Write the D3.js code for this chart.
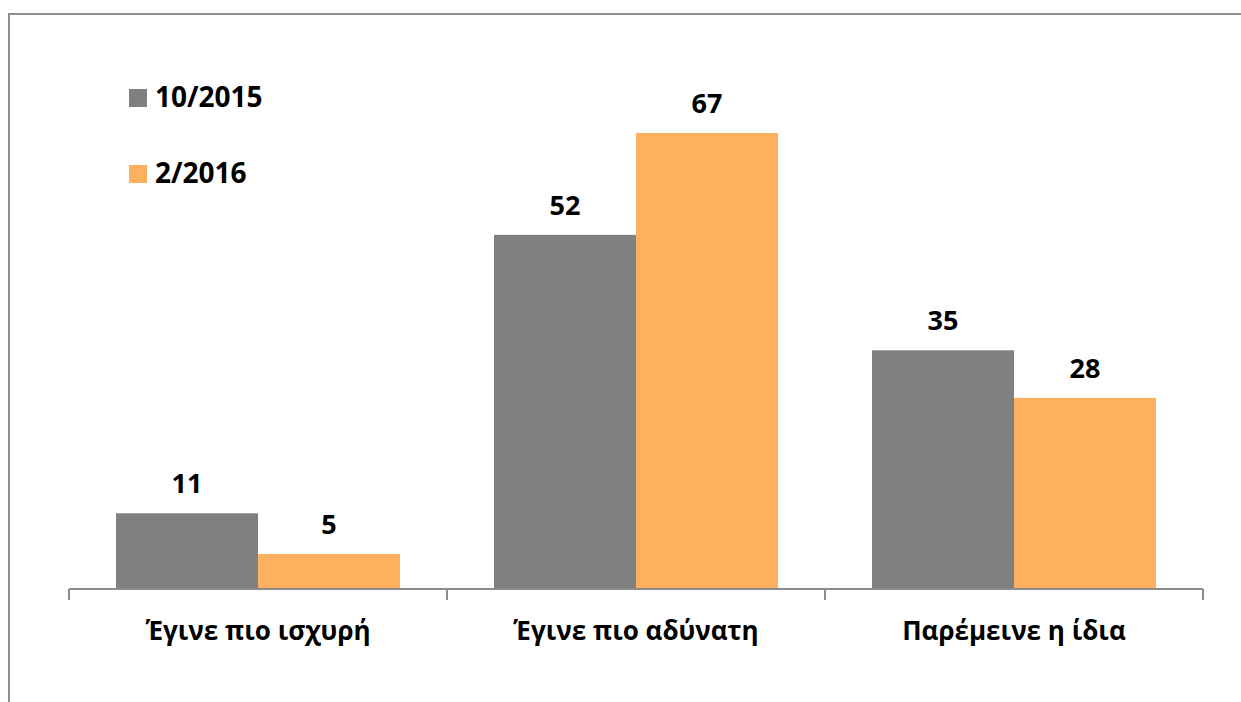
<!DOCTYPE html>
<html>
<head>
<meta charset="utf-8">
<script src="https://cdn.jsdelivr.net/npm/d3@7"></script>
<style>
  body { margin: 0; background: #fff; }
  svg { display: block; }
  text { font-family: "Open Sans", sans-serif; font-weight: bold; fill: #000; }
</style>
</head>
<body>
<div id="chart"></div>
<script>
// Chart data
const categories = ["Έγινε πιο ισχυρή", "Έγινε πιο αδύνατη", "Παρέμεινε η ίδια"];
const seriesNames = ["10/2015", "2/2016"];
const values2015 = [11, 52, 35];
const values2016 = [5, 67, 28];
const colors = ["#808080", "#FDB05E"];

const width = 1241;
const height = 702;
const margin = { top: 113, right: 38, bottom: 114, left: 69 };
const innerWidth = width - margin.left - margin.right;
const baseY = height - margin.bottom;

const svg = d3.select("#chart").append("svg")
    .attr("width", width)
    .attr("height", height);

// outer frame (right and bottom edges are cut off in the original)
svg.append("rect")
    .attr("x", 9)
    .attr("y", 14)
    .attr("width", 1260)
    .attr("height", 720)
    .attr("fill", "none")
    .attr("stroke", "#8f8f8f")
    .attr("stroke-width", 2);

const x0 = d3.scaleBand()
    .domain(categories)
    .range([margin.left, margin.left + innerWidth])
    .paddingInner(0)
    .paddingOuter(0);

const x1 = d3.scaleBand()
    .domain(seriesNames)
    .range([0, x0.bandwidth()])
    .paddingOuter(0.331);

const y = d3.scaleLinear()
    .domain([0, 70])
    .range([baseY, baseY - 70 * (455 / 67)]);

const rows = categories.map((c, i) => ({
    category: c,
    items: [
        { series: seriesNames[0], value: values2015[i] },
        { series: seriesNames[1], value: values2016[i] }
    ]
}));

const color = d3.scaleOrdinal().domain(seriesNames).range(colors);

const groups = svg.append("g")
    .selectAll("g")
    .data(rows)
    .enter()
    .append("g")
    .attr("transform", d => `translate(${x0(d.category)},0)`);

groups.selectAll("rect")
    .data(d => d.items)
    .enter()
    .append("rect")
    .attr("x", d => x1(d.series))
    .attr("y", d => y(d.value))
    .attr("width", x1.bandwidth())
    .attr("height", d => baseY - y(d.value))
    .attr("fill", d => color(d.series));

groups.selectAll("text.value")
    .data(d => d.items)
    .enter()
    .append("text")
    .attr("class", "value")
    .attr("x", d => x1(d.series) + x1.bandwidth() / 2)
    .attr("y", d => y(d.value) - 20)
    .attr("text-anchor", "middle")
    .style("font-size", "27px")
    .text(d => d.value);

// x axis line, separators and category labels
const axisG = svg.append("g")
    .attr("transform", `translate(0,${baseY + 1})`);

axisG.append("line")
    .attr("x1", margin.left)
    .attr("x2", margin.left + innerWidth)
    .attr("y1", 0)
    .attr("y2", 0)
    .attr("stroke", "#8c8c8c")
    .attr("stroke-width", 2);

const tickPositions = categories.map(c => x0(c)).concat([x0(categories[categories.length - 1]) + x0.bandwidth()]);
axisG.selectAll("line.sep")
    .data(tickPositions)
    .enter()
    .append("line")
    .attr("class", "sep")
    .attr("x1", d => d)
    .attr("x2", d => d)
    .attr("y1", 0)
    .attr("y2", 11)
    .attr("stroke", "#8c8c8c")
    .attr("stroke-width", 2);

axisG.selectAll("text.cat")
    .data(categories)
    .enter()
    .append("text")
    .attr("class", "cat")
    .attr("x", d => x0(d) + x0.bandwidth() / 2)
    .attr("y", 51)
    .attr("text-anchor", "middle")
    .style("font-size", "26px")
    .text(d => d);

// legend
const legend = svg.append("g");
seriesNames.forEach((s, i) => {
    legend.append("rect")
        .attr("x", 129)
        .attr("y", 89 + i * 76)
        .attr("width", 18)
        .attr("height", 18)
        .attr("fill", colors[i]);
    legend.append("text")
        .attr("x", 155)
        .attr("y", 107 + i * 76)
        .style("font-size", "28px")
        .text(s);
});
</script>
</body>
</html>
